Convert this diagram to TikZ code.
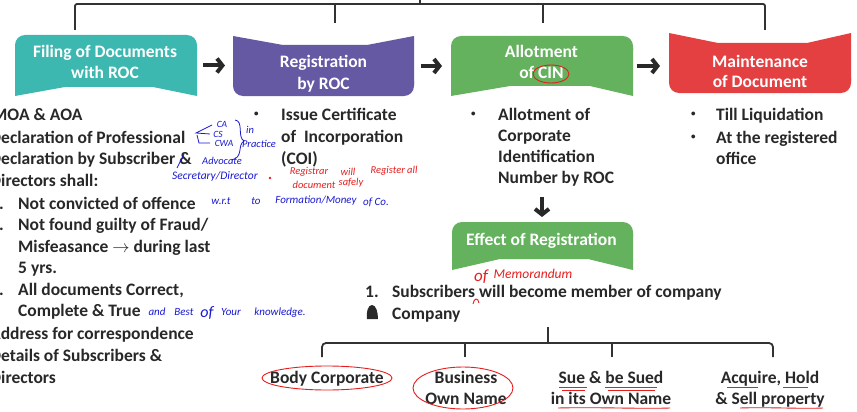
\documentclass[tikz,border=0pt]{standalone}
\usepackage{fontspec}
\setmainfont{Carlito}
\usetikzlibrary{calc,arrows.meta}
\definecolor{cteal}{RGB}{61,184,176}
\definecolor{cpurp}{RGB}{101,89,164}
\definecolor{cgreen}{RGB}{100,178,94}
\definecolor{cred}{RGB}{228,64,66}
\definecolor{ctext}{RGB}{40,40,40}
\definecolor{cline}{RGB}{50,50,50}
\definecolor{inkblue}{RGB}{25,25,210}
\definecolor{inkred}{RGB}{230,30,30}
% rounded top, notched bottom: node, colour, depth, left inset, right inset
\newcommand\shapeA[5]{%
  \fill[#2, rounded corners=10pt] (#1.north west) rectangle ($(#1.north east)+(0,25)$);
  \fill[#2] ($(#1.north west)+(0,12)$) -- ($(#1.north east)+(0,12)$) -- (#1.south east)
    -- ($(#1.south east)+(-#5,-#3)$) -- ($(#1.south west)+(#4,-#3)$) -- (#1.south west) -- cycle;}
% notched top, rounded bottom
\newcommand\shapeB[5]{%
  \fill[#2, rounded corners=10pt] ($(#1.south west)+(0,-25)$) rectangle (#1.south east);
  \fill[#2] (#1.north west) -- ($(#1.north west)+(#4,#3)$) -- ($(#1.north east)+(-#5,#3)$)
    -- (#1.north east) -- ($(#1.south east)+(0,-12)$) -- ($(#1.south west)+(0,-12)$) -- cycle;}
\newcommand\smallbul{\raisebox{4pt}{\fontsize{9}{9}\selectfont\textbullet}}
\begin{document}
\begin{tikzpicture}[x=1pt,y=-1pt,
  area/.style={inner sep=0pt, outer sep=0pt, minimum width=#1},
  boxlabel/.style={text=white, font=\bfseries\fontsize{17.5}{20}\selectfont, inner sep=0pt, anchor=base},
  body/.style={text=ctext, font=\bfseries\fontsize{17.5}{21}\selectfont, inner sep=0pt, anchor=base west},
  leaf/.style={text=ctext, font=\bfseries\fontsize{17.5}{21}\selectfont, inner sep=0pt, anchor=base},
  bigarrow/.style={draw=ctext, line width=4pt, -{Straight Barb[length=5.5pt,width=14pt]}},
  treeline/.style={draw=cline, line width=1.8pt},
  hand/.style={inner sep=0pt, font=\itshape\fontsize{10.5}{11}\selectfont},
  blueink/.style={draw=inkblue, line width=0.8pt},
  redink/.style={draw=inkred, line width=0.9pt}]
\useasboundingbox (0,0) rectangle (857,412);
\clip (0,0) rectangle (857,412);
\fill[white] (0,0) rectangle (857,412);

% ---------- top tree ----------
\coordinate (troot) at (420,0);
\coordinate (tbar) at (420,4);
\coordinate (t1) at (75,30);
\coordinate (t2) at (335,23);
\coordinate (t3) at (543,23);
\coordinate (t4) at (765,30);
\draw[treeline] (troot) -- (tbar);
\draw[treeline, rounded corners=2pt] (t1) |- (tbar) -| (t4);
\draw[treeline] (t2) -- (t2 |- tbar);
\draw[treeline] (t3) -- (t3 |- tbar);

% ---------- boxes ----------
\node[area=182pt, minimum height=61pt] (b1) at (106,65.5) {};
\node[area=181pt, minimum height=60pt] (b2) at (323.5,66) {};
\node[area=182pt, minimum height=60pt] (b3) at (542,66) {};
\node[area=182pt, minimum height=60pt] (b4) at (760,63) {};
\node[area=181pt, minimum height=48pt] (b5) at (542.5,246) {};
\shapeA{b1}{cteal}{9}{50}{44}
\shapeB{b2}{cpurp}{9}{50}{47}
\shapeA{b3}{cgreen}{10}{59}{43}
\shapeB{b4}{cred}{10}{49}{44}
\shapeA{b5}{cgreen}{11}{48}{45}

\node[boxlabel] (b1a) at (105,58) {Filing of Documents};
\node[boxlabel] (b1b) at (105,79) {with ROC};
\node[boxlabel] (b2a) at (323.5,68) {Registration};
\node[boxlabel] (b2b) at (323.5,89.5) {by ROC};
\node[boxlabel] (b3a) at (541.5,58) {Allotment};
\node[boxlabel] (b3b) at (541.5,78) {of CIN};
\node[boxlabel] (b4a) at (760,68) {Maintenance};
\node[boxlabel] (b4b) at (760,88) {of Document};
\node[boxlabel] (b5a) at (541.5,245) {Effect of Registration};

% ---------- arrows ----------
\draw[bigarrow, shorten <=6pt, shorten >=8pt] (b1.east) -- (b1.east -| b2.west);
\draw[bigarrow, shorten <=7pt, shorten >=9pt] (b2.east) -- (b2.east -| b3.west);
\draw[bigarrow, shorten <=4pt, shorten >=9pt] (b3.east) -- (b3.east -| b4.west);
\coordinate (dstart) at (542,197);
\draw[bigarrow, shorten >=5pt] (dstart) -- (dstart |- b5.north);

% ---------- column 1 ----------
\node[body] (l1) at (-8,121) {MOA \& AOA};
\node[body] (l2) at (-10,143) {Declaration of Professional};
\node[body] (l3) at (-10,164) {Declaration by Subscriber \&};
\node[body] (l4) at (-10,186) {Directors shall:};
\node[body] (n1) at (-10,209) {1.};
\node[body] (s1) at (18,209) {Not convicted of offence};
\node[body] (n2) at (-10,230) {2.};
\node[body] (s2) at (18,230) {Not found guilty of Fraud/};
\node[body] (s3) at (18,252) {Misfeasance $\rightarrow$ during last};
\node[body] (s4) at (18,273) {5 yrs.};
\node[body] (n3) at (-10,295) {3.};
\node[body] (s5) at (18,295) {All documents Correct,};
\node[body] (s6) at (18,316) {Complete \& True};
\node[body] (l5) at (-10,339) {Address for correspondence};
\node[body] (l6) at (-10,361) {Details of Subscribers \&};
\node[body] (l7) at (-10,383) {Directors};

% ---------- column 2 ----------
\node[body] (c2b) at (254,121) {\smallbul};
\node[body] (c2a) at (281,121) {Issue Certificate};
\node[body] (c2c) at (281,142) {of\ \ Incorporation};
\node[body] (c2d) at (281,164) {(COI)};

% ---------- column 3 ----------
\node[body] (c3b) at (471,120.5) {\smallbul};
\node[body] (c3a) at (498,120.5) {Allotment of};
\node[body] (c3c) at (498,141.5) {Corporate};
\node[body] (c3d) at (498,162.5) {Identification};
\node[body] (c3e) at (498,183.5) {Number by ROC};

% ---------- column 4 ----------
\node[body] (c4b) at (691,121) {\smallbul};
\node[body] (c4a) at (716,121) {Till Liquidation};
\node[body] (c4c) at (691,143) {\smallbul};
\node[body] (c4d) at (716,143) {At the registered};
\node[body] (c4e) at (716,164) {office};

% ---------- effect list ----------
\node[body] (e1n) at (365,297) {1.};
\node[body] (e1) at (392,297) {Subscribers will become member of company};
\fill[ctext] (367,319) .. controls (366,312) and (368,305) .. (372,305)
  .. controls (376,305) and (378,312) .. (378,319) -- cycle;
\node[body] (e2) at (392,319) {Company};

% ---------- bottom tree ----------
\coordinate (broot) at (548,327);
\coordinate (bbar) at (548,343);
\coordinate (k1) at (322,357);
\coordinate (k2) at (465,357);
\coordinate (k3) at (612,357);
\coordinate (k4) at (773,357);
\draw[treeline] (broot) -- (bbar);
\draw[treeline, rounded corners=4pt] (k1) |- (bbar) -| (k4);
\draw[treeline] (k2) -- (k2 |- bbar);
\draw[treeline] (k3) -- (k3 |- bbar);

\node[leaf] (f1) at (327,383) {Body Corporate};
\node[leaf] (f2a) at (466,383) {Business};
\node[leaf] (f2b) at (466,404) {Own Name};
\node[leaf] (f3a) at (611,383) {Sue \& be Sued};
\node[leaf] (f3b) at (611,404) {in its Own Name};
\node[leaf] (f4a) at (770,383) {Acquire, Hold};
\node[leaf] (f4b) at (770,404) {\& Sell property};

% ---------- handwritten notes ----------
\node[hand, text=inkblue, font=\itshape\fontsize{9.5}{10}\selectfont] (hca) at (222,124) {CA};
\node[hand, text=inkblue, font=\itshape\fontsize{9.5}{10}\selectfont] (hcs) at (218,134) {CS};
\node[hand, text=inkblue, font=\itshape\fontsize{9.5}{10}\selectfont] (hcwa) at (224,143) {CWA};
\draw[blueink] (212,125) -- (196,133) -- (210,134);
\draw[blueink] (197,135) -- (199,143) -- (210,143);
\draw[blueink] (235,120) .. controls (244,121) and (237,137) .. (244,141) .. controls (237,145) and (244,158) .. (231,160);
\node[hand, text=inkblue] (hin) at (250,130) {in};
\node[hand, text=inkblue] (hpr) at (259,144) {Practice};
\node[hand, text=inkblue] (hadv) at (222,161) {Advocate};
\draw[blueink] (184,154) -- (177,168);
\node[hand, text=inkblue, font=\itshape\fontsize{11.5}{12}\selectfont] (hsec) at (215,176) {Secretary/Director};
\node[hand, text=inkblue, font=\itshape\fontsize{11}{12}\selectfont] (hw1) at (221,201) {w.r.t};
\node[hand, text=inkblue, font=\itshape\fontsize{11}{12}\selectfont] (hw2) at (256,201) {to};
\node[hand, text=inkblue, font=\itshape\fontsize{11}{12}\selectfont] (hw3) at (316,201) {Formation/Money};
\node[hand, text=inkblue, font=\itshape\fontsize{11}{12}\selectfont] (hw4) at (376,202) {of Co.};

\fill[inkred] (270,178) circle [radius=1.3];
\node[hand, text=inkred] (hr1) at (309,172) {Registrar};
\node[hand, text=inkred] (hr2) at (348,172) {will};
\node[hand, text=inkred] (hr3) at (394,171) {Register all};
\node[hand, text=inkred] (hr4) at (314,185) {document};
\node[hand, text=inkred] (hr5) at (351,183) {safely};

\node[hand, text=inkblue, font=\itshape\fontsize{11}{12}\selectfont] (hb1) at (157,312) {and};
\node[hand, text=inkblue, font=\itshape\fontsize{11}{12}\selectfont] (hb2) at (184,312) {Best};
\node[hand, text=inkblue, font=\itshape\fontsize{16}{17}\selectfont] (hb3) at (207,313) {of};
\node[hand, text=inkblue, font=\itshape\fontsize{11}{12}\selectfont] (hb4) at (231,312) {Your};
\node[hand, text=inkblue, font=\itshape\fontsize{11}{12}\selectfont] (hb5) at (280,313) {knowledge.};

\draw[redink] (551,74) ellipse [x radius=18, y radius=9];
\node[hand, text=inkred, font=\itshape\fontsize{17}{18}\selectfont] (hm1) at (481,277) {of};
\node[hand, text=inkred, font=\itshape\fontsize{13.5}{14}\selectfont] (hm2) at (533,274) {Memorandum};
\draw[redink] (473,304) .. controls (474,298) and (478,297) .. (479,303);

\draw[redink] (327,378) ellipse [x radius=65, y radius=12];
\draw[redink] (463,388) ellipse [x radius=50, y radius=21];
\draw[redink] (559,387) -- (587,387);
\draw[redink] (562,390) -- (585,390);
\draw[redink] (605,387) -- (657,387);
\draw[redink] (608,390) -- (655,390);
\draw[redink] (558,408) .. controls (600,407) and (640,409) .. (670,408);
\draw[redink] (727,387) -- (758,387);
\draw[redink] (783,387) -- (808,387);
\draw[redink] (740,408) .. controls (770,407) and (800,409) .. (823,408);
\end{tikzpicture}
\end{document}
